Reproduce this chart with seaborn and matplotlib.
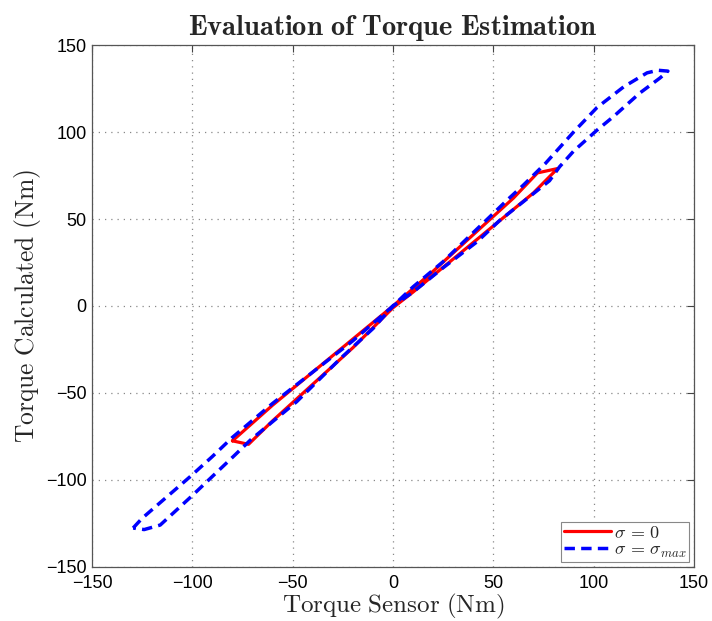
import numpy as np
import pandas as pd
import matplotlib
matplotlib.use("Agg")
import matplotlib.pyplot as plt
import seaborn as sns

# ---- data ----
blue_x = [-129.5, -125, -115, -101, -90, -80, -60, -40, -20, -10, 0, 10, 25, 38, 48, 57, 65, 76,
          90, 101.6, 115, 126.6, 132, 137,
          133, 123, 110, 101.6, 90, 83, 78, 65, 53, 42, 25, 10, 0, -10, -26, -48, -71, -80,
          -101, -116, -124, -129.5]
blue_y = [-127.6, -122, -112, -98, -86.5, -75.5, -56, -38, -20, -10, 0, 11, 25.5, 40, 51, 61, 69.5, 82,
          100, 114, 126, 134, 135.5, 135,
          131, 122.4, 109, 101, 89, 80, 72, 60, 49, 37, 22, 8, 0, -13, -30, -55, -77, -87,
          -110, -125.9, -128.5, -127.6]

red_x = [-80, -60, -40, -20, 0, 20, 40, 60, 72, 82,
         70, 50, 30, 10, 0, -20, -40, -60, -72, -80]
red_y = [-77.5, -57, -38, -19, 0, 20, 41, 62, 76.5, 79,
         65, 46, 27, 8, -1, -24, -45, -66, -79.5, -77.5]

labels = [r'$\sigma\,=\,0$', r'$\sigma\,=\,\sigma_{max}$']
ticks = [-150, -100, -50, 0, 50, 100, 150]

df = pd.concat([
    pd.DataFrame({'x': red_x, 'y': red_y, 'series': labels[0], 'order': range(len(red_x))}),
    pd.DataFrame({'x': blue_x, 'y': blue_y, 'series': labels[1], 'order': range(len(blue_x))}),
], ignore_index=True)

sns.set_theme(style="white")
plt.rcParams['font.family'] = ['Liberation Sans', 'DejaVu Sans']
plt.rcParams['mathtext.fontset'] = 'cm'

fig = plt.figure(figsize=(7.12, 6.21), dpi=100)
ax = fig.add_axes([0.1292, 0.0870, 0.9747 - 0.1292, 0.9275 - 0.0870])

sns.lineplot(data=df, x='x', y='y', hue='series', style='series',
             hue_order=labels, style_order=labels,
             palette={labels[0]: '#ff0000', labels[1]: '#0000ff'},
             dashes={labels[0]: '', labels[1]: (3.0, 1.8)},
             sort=False, estimator=None, units=None, linewidth=2.5, ax=ax, legend=True)

for ln in ax.get_lines():
    if ln.get_color() in ('#ff0000', (1.0, 0.0, 0.0, 1)):
        ln.set_linewidth(2.3)

ax.set_xlim(-150, 150)
ax.set_ylim(-150, 150)
ax.set_xticks(ticks)
ax.set_yticks(ticks)
ax.set_xticklabels([str(t).replace('-', '\u2212') for t in ticks], fontsize=13)
ax.set_yticklabels([str(t).replace('-', '\u2212') for t in ticks], fontsize=13)
ax.tick_params(direction='in', length=5, width=0.8, color='#444444', top=True, right=True,
               labelcolor='black', pad=4)
ax.tick_params(axis='x', pad=6)
ax.grid(True, linestyle=(0, (1, 4)), color='#888888', linewidth=0.9)
for sp in ax.spines.values():
    sp.set_color('#555555')
    sp.set_linewidth(0.9)

ax.set_title(r'$\mathbf{Evaluation\ of\ Torque\ Estimation}$', fontsize=20.5, pad=7)
ax.set_xlabel(r'$\mathrm{Torque\ Sensor\ (Nm)}$', fontsize=18, labelpad=0)
ax.set_ylabel(r'$\mathrm{Torque\ Calculated\ (Nm)}$', fontsize=18.4, labelpad=2)

handles, labs = ax.get_legend_handles_labels()
leg = ax.legend(handles, labs, loc='lower right', fontsize=13, frameon=True,
                fancybox=False, edgecolor='#888888', framealpha=1,
                handlelength=2.6, handletextpad=0.2, labelspacing=0.0,
                borderpad=0.15, borderaxespad=0.25)
leg.get_frame().set_linewidth(0.8)

fig.savefig('out.png', dpi=100)
